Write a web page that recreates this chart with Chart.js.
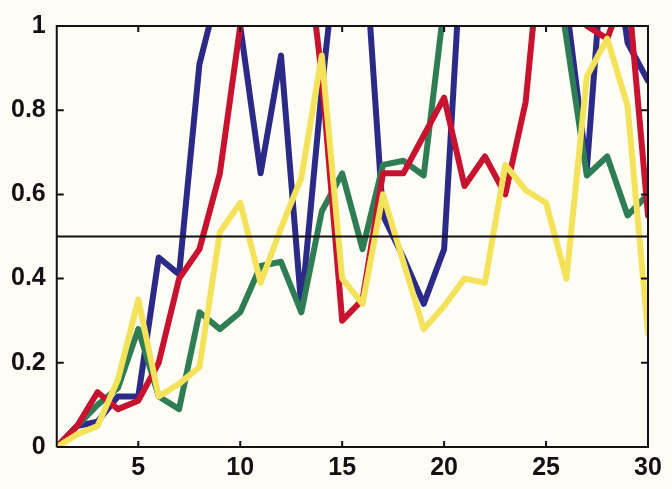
<!DOCTYPE html>
<html>
<head>
<meta charset="utf-8">
<script src="https://cdn.jsdelivr.net/npm/chart.js@4/dist/chart.umd.min.js"></script>
<style>
  html, body { margin: 0; padding: 0; background: #fdfcf5; }
  #wrap { width: 672px; height: 489px; position: relative; }
</style>
</head>
<body>
<div id="wrap"><canvas id="Chart" width="672" height="489"></canvas></div>
<script>
const days = [1, 2, 3, 4, 5, 6, 7, 8, 9, 10, 11, 12, 13, 14, 15, 16, 17, 18, 19, 20, 21, 22, 23, 24, 25, 26, 27, 28, 29, 30];
const blue   = [0, 0.05, 0.06, 0.12, 0.12, 0.45, 0.41, 0.91, 1.1, 1.0, 0.65, 0.93, 0.33, 0.85, 1.3, 1.27, 0.55, 0.45, 0.34, 0.47, 1.3, 1.3, 1.3, 1.3, 1.3, 1.05, 0.66, 1.3, 0.96, 0.87];
const red    = [0, 0.05, 0.13, 0.09, 0.11, 0.2, 0.4, 0.47, 0.65, 1.0, 1.3, 1.3, 1.3, 0.88, 0.3, 0.35, 0.65, 0.65, 0.74, 0.83, 0.62, 0.69, 0.6, 0.82, 1.32, 1.2, 1.0, 0.97, 1.1, 0.55];
const green  = [0, 0.05, 0.1, 0.14, 0.28, 0.12, 0.09, 0.32, 0.28, 0.32, 0.43, 0.44, 0.32, 0.56, 0.65, 0.47, 0.67, 0.68, 0.645, 1.05, 1.3, 1.3, 1.3, 1.3, 1.3, 0.97, 0.645, 0.69, 0.55, 0.6];
const yellow = [0, 0.03, 0.05, 0.16, 0.35, 0.12, 0.15, 0.19, 0.51, 0.58, 0.39, 0.52, 0.64, 0.93, 0.4, 0.34, 0.6, 0.44, 0.28, 0.335, 0.4, 0.39, 0.67, 0.61, 0.58, 0.4, 0.88, 0.97, 0.81, 0.27];
const threshold = [0.5, 0.5];
const xTicks = [5, 10, 15, 20, 25, 30];
const yTicks = [0, 0.2, 0.4, 0.6, 0.8, 1];

const ink = "#151015";
const pts = (vals) => vals.map((v, i) => ({ x: days[i], y: v }));
const x0 = days[0], x1 = days[days.length - 1];
const y0 = yTicks[0], y1 = yTicks[yTicks.length - 1];

const line = (label, vals, color, order) => ({
    label: label,
    data: pts(vals),
    borderColor: color,
    borderWidth: 6,
    pointRadius: 0,
    tension: 0,
    borderJoinStyle: "round",
    borderCapStyle: "round",
    order: order,
});

// inward tick marks, placed through the scales
const tickPlugin = {
    id: "inticks",
    afterDatasetsDraw(chart) {
        const ctx = chart.ctx;
        const xs = chart.scales.x, ys = chart.scales.y;
        const l = xs.getPixelForValue(x0), r = xs.getPixelForValue(x1);
        const t = ys.getPixelForValue(y1), b = ys.getPixelForValue(y0);
        ctx.save();
        ctx.strokeStyle = ink;
        ctx.lineWidth = 2;
        ctx.beginPath();
        for (const v of xTicks) {
            const px = xs.getPixelForValue(v);
            ctx.moveTo(px, b); ctx.lineTo(px, b - 6);
            ctx.moveTo(px, t); ctx.lineTo(px, t + 6);
        }
        for (const v of yTicks) {
            const py = ys.getPixelForValue(v);
            ctx.moveTo(l, py); ctx.lineTo(l + 7, py);
            ctx.moveTo(r, py); ctx.lineTo(r - 7, py);
        }
        ctx.stroke();
        ctx.restore();
    }
};

const tickFont = { family: "'Liberation Sans', Arial, sans-serif", size: 25, weight: "bold" };

new Chart(document.getElementById("Chart"), {
    type: "line",
    data: {
        datasets: [
            {
                // box round the plot
                label: "frame",
                data: [{ x: x0, y: y0 }, { x: x1, y: y0 }, { x: x1, y: y1 }, { x: x0, y: y1 }, { x: x0, y: y0 }],
                borderColor: ink,
                borderWidth: 2,
                pointRadius: 0,
                tension: 0,
                clip: false,
                order: -1,
            },
            {
                label: "threshold",
                data: [{ x: x0, y: threshold[0] }, { x: x1, y: threshold[1] }],
                borderColor: "#111111",
                borderWidth: 2,
                pointRadius: 0,
                order: 0,
            },
            line("yellow", yellow, "#f4e35a", 1),
            line("red", red, "#c8122f", 2),
            line("green", green, "#2f7d55", 3),
            line("blue", blue, "#2b2a88", 4),
        ]
    },
    options: {
        responsive: false,
        animation: false,
        layout: { padding: { top: 18, right: 24, left: 0, bottom: 0 } },
        plugins: {
            legend: { display: false },
            tooltip: { enabled: false },
        },
        scales: {
            x: {
                type: "linear",
                min: 1,
                max: 30,
                grid: { display: false, drawTicks: false },
                border: { display: false },
                afterBuildTicks: (s) => { s.ticks = xTicks.map(v => ({ value: v })); },
                ticks: { font: tickFont, color: ink, padding: 6, maxRotation: 0 },
            },
            y: {
                min: 0,
                max: 1,
                grid: { display: false, drawTicks: false },
                border: { display: false },
                afterBuildTicks: (s) => { s.ticks = yTicks.map(v => ({ value: v })); },
                ticks: {
                    font: tickFont,
                    color: ink,
                    padding: 11,
                    callback: (v) => (v === 0 || v === 1) ? String(v) : v.toFixed(1),
                },
            },
        },
    },
    plugins: [tickPlugin],
});
</script>
</body>
</html>
